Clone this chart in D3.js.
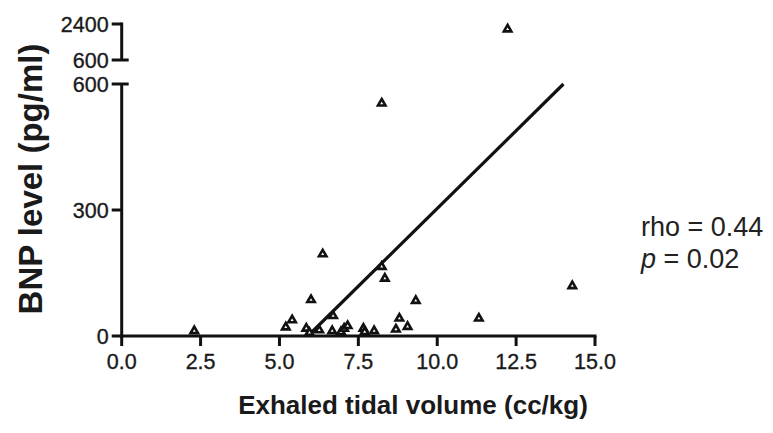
<!DOCTYPE html>
<html>
<head>
<meta charset="utf-8">
<script src="https://d3js.org/d3.v7.min.js"></script>
<style>
  body { margin: 0; background: #fff; }
  text { font-family: "Liberation Sans", Arial, sans-serif; fill: #1a1a1a; }
  .tick-label { font-size: 21.5px; stroke: #1a1a1a; stroke-width: 0.35px; }
  .axis-title { font-size: 26px; font-weight: bold; }
  .y-title { font-size: 33px; font-weight: bold; }
  .note { font-size: 27px; fill: #222; }
</style>
</head>
<body>
<div id="chart"></div>
<script>
// exhaled tidal volume (cc/kg) vs BNP level (pg/ml)
const tidalVolume = [2.3, 5.2, 5.4, 5.85, 6.0, 6.37, 6.26, 6.7, 6.67, 6.95, 7.05, 7.16, 7.66,
                     7.7, 8.0, 8.24, 8.34, 8.24, 8.69, 8.8, 9.06, 9.32, 11.32, 14.28, 12.23, 5.95];
const bnpLevel = [12, 21, 38, 18, 86, 195, 14, 48, 12, 10, 18, 24, 18,
                  10, 12, 165, 137, 554, 16, 42, 22, 84, 42, 119, 2140, 8];

const xTicks = [0, 2.5, 5, 7.5, 10, 12.5, 15];
const yTicksLow = [0, 300, 600];
const yTicksHigh = [600, 2400];

// regression line end points
const fitX = [5.9, 14.0];
const fitY = [0, 600];

const noteLines = ["rho = 0.44", "p = 0.02"];

const W = 773, H = 433;
const svg = d3.select("#chart").append("svg")
    .attr("width", W).attr("height", H);

const x = d3.scaleLinear().domain([0, 15]).range([121.7, 595]);
const yLow = d3.scaleLinear().domain([0, 600]).range([336, 84]);
const yHigh = d3.scaleLinear().domain([600, 2400]).range([60, 24]);
const yPos = v => v > 600 ? yHigh(v) : yLow(v);

const axisX0 = x(0);
const tickLen = 10;

// x axis
const xa = svg.append("g").attr("transform", `translate(0,${yLow(0)})`);
xa.append("line").attr("x1", x(0) - 2).attr("x2", x(15) + 1.5)
    .attr("stroke", "#111").attr("stroke-width", 3);
xa.selectAll(".xt").data(xTicks).enter().append("line")
    .attr("x1", d => x(d)).attr("x2", d => x(d))
    .attr("y1", 0).attr("y2", tickLen)
    .attr("stroke", "#111").attr("stroke-width", 3);
xa.selectAll(".xl").data(xTicks).enter().append("text")
    .attr("class", "tick-label")
    .attr("x", d => x(d)).attr("y", 33)
    .attr("text-anchor", "middle")
    .text(d => d3.format(".1f")(d));

// y axis, lower part
const ya = svg.append("g");
ya.append("line").attr("x1", axisX0).attr("x2", axisX0)
    .attr("y1", yLow(600)).attr("y2", yLow(0) + 1.5)
    .attr("stroke", "#111").attr("stroke-width", 3);
ya.selectAll(".yt").data(yTicksLow).enter().append("line")
    .attr("x1", axisX0 - tickLen).attr("x2", d => d === 600 ? axisX0 + 7 : axisX0)
    .attr("y1", d => yLow(d)).attr("y2", d => yLow(d))
    .attr("stroke", "#111").attr("stroke-width", 3);
ya.selectAll(".yl").data(yTicksLow).enter().append("text")
    .attr("class", "tick-label")
    .attr("x", axisX0 - tickLen - 3).attr("y", d => yLow(d))
    .attr("dy", "0.36em").attr("text-anchor", "end")
    .text(d => d);

// y axis, upper part (after the break)
ya.append("line").attr("x1", axisX0).attr("x2", axisX0)
    .attr("y1", yHigh(2400) - 1.5).attr("y2", yHigh(600))
    .attr("stroke", "#111").attr("stroke-width", 3);
ya.selectAll(".yth").data(yTicksHigh).enter().append("line")
    .attr("x1", axisX0 - tickLen).attr("x2", d => d === 600 ? axisX0 + 7 : axisX0)
    .attr("y1", d => yHigh(d)).attr("y2", d => yHigh(d))
    .attr("stroke", "#111").attr("stroke-width", 3);
ya.selectAll(".ylh").data(yTicksHigh).enter().append("text")
    .attr("class", "tick-label")
    .attr("x", axisX0 - tickLen - 3).attr("y", d => yHigh(d))
    .attr("dy", "0.36em").attr("text-anchor", "end")
    .text(d => d);

// regression line
svg.append("line")
    .attr("x1", x(fitX[0])).attr("y1", yLow(fitY[0]))
    .attr("x2", x(fitX[1])).attr("y2", yLow(fitY[1]))
    .attr("stroke", "#111").attr("stroke-width", 3.2);

// points
const pts = tidalVolume.map((v, i) => ({ x: v, y: bnpLevel[i] }));
svg.selectAll(".pt").data(pts).enter().append("path")
    .attr("d", d3.symbol().type(d3.symbolTriangle).size(24))
    .attr("transform", d => `translate(${x(d.x)},${yPos(d.y)})`)
    .attr("fill", "#fff").attr("stroke", "#111").attr("stroke-width", 2.6);

// axis titles
svg.append("text").attr("class", "axis-title")
    .attr("x", 413).attr("y", 414).attr("text-anchor", "middle")
    .text("Exhaled tidal volume (cc/kg)");
svg.append("text").attr("class", "y-title")
    .attr("transform", "translate(42,179) rotate(-90)")
    .attr("text-anchor", "middle")
    .text("BNP level (pg/ml)");

// correlation note
const note = svg.append("text").attr("class", "note").attr("x", 641).attr("y", 236);
note.append("tspan").text(noteLines[0]);
const p2 = svg.append("text").attr("class", "note").attr("x", 641).attr("y", 268);
p2.append("tspan").attr("font-style", "italic").text(noteLines[1].slice(0, 1));
p2.append("tspan").text(noteLines[1].slice(1));
</script>
</body>
</html>
